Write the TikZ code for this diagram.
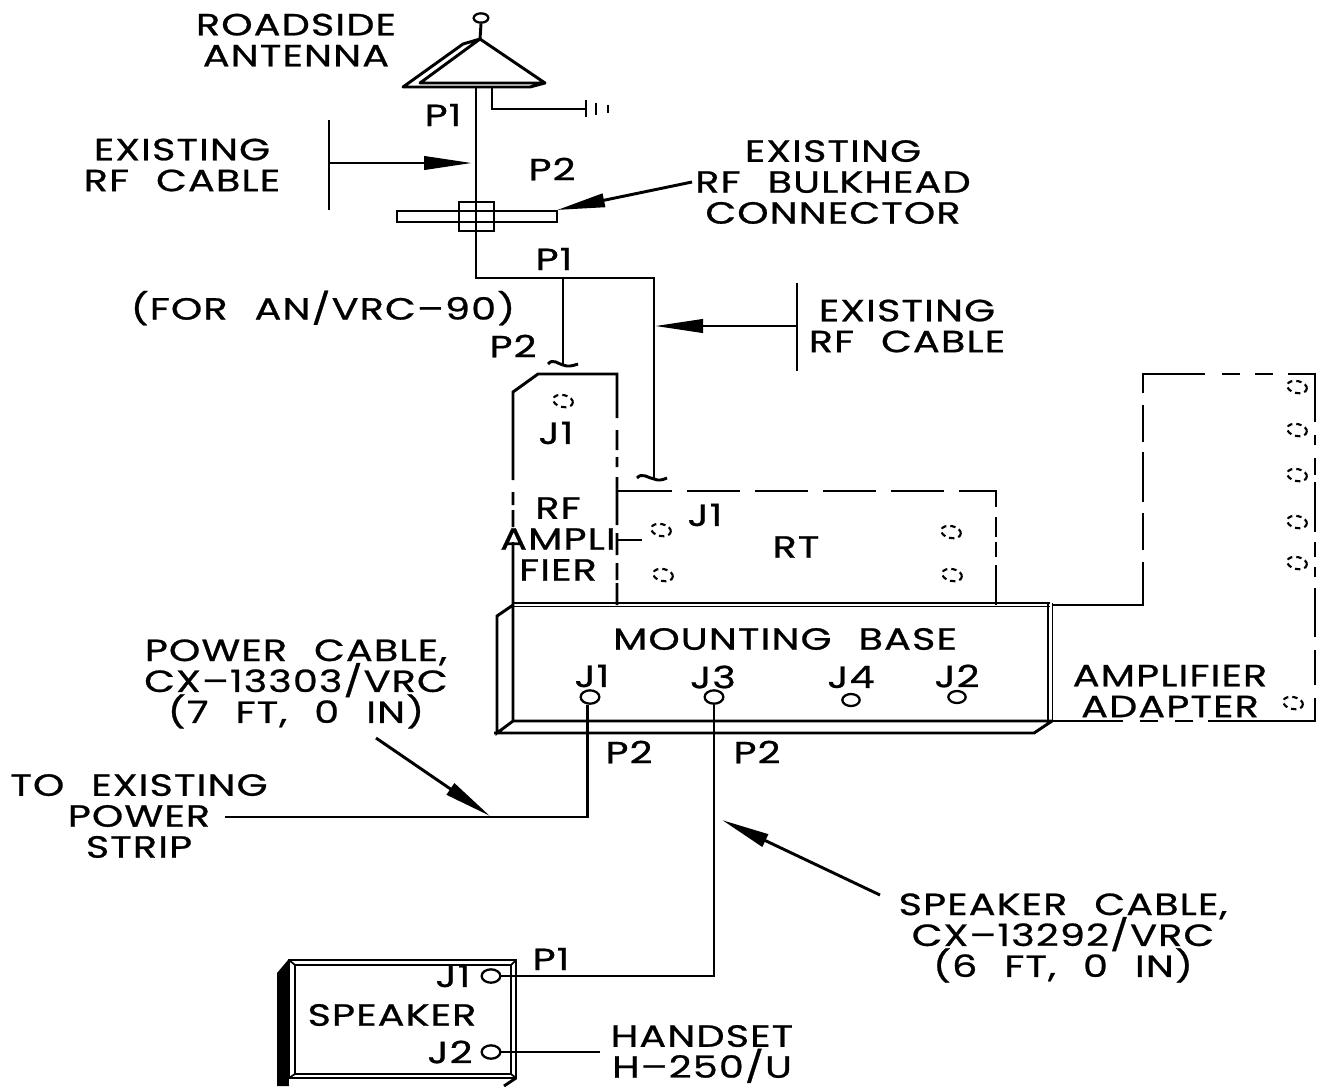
\documentclass[tikz,border=0pt]{standalone}
\usepackage{fontspec}
\setmainfont{Poppins}
\newfontfamily\labfont[FakeStretch=1.3,FakeBold=0.8,LetterSpace=3.5,WordSpace=2.3]{Poppins}
\usetikzlibrary{shapes.geometric,arrows.meta}
\lineskiplimit=-20pt
\normallineskiplimit=-20pt
\tikzset{
 ln/.style={line width=2.2pt,line cap=butt,line join=miter},
 thin2/.style={line width=1.3pt},
 lab/.style={inner sep=0pt,align=center,font=\labfont\fontsize{23}{23.2}\selectfont},
 conn/.style={draw,ellipse,line width=1.7pt,minimum width=14pt,minimum height=10pt,inner sep=0pt,fill=white},
 hole/.style={draw,ellipse,line width=1.6pt,minimum width=15pt,minimum height=9pt,inner sep=0pt,rotate=-12,dash pattern=on 4pt off 3pt},
 arw/.style={ln,-{Triangle[length=36pt,width=10pt]}}
}
\begin{document}
\begin{tikzpicture}[x=0.75pt,y=-0.75pt]
\useasboundingbox (0,0) rectangle (1319,1086);
% antenna
\node[conn,minimum width=11pt,minimum height=7pt] (tip) at (481,18) {};
\coordinate (apex) at (480,39);
\draw[ln] (tip.south) -- (apex);
\draw[ln,line join=round] (apex) -- (545,83) -- (530,87) -- (403,87) -- (463,44) -- (apex) -- (420,83) -- (545,83);
\coordinate (antfoot) at (476,87);
\coordinate (gfoot) at (492,87);
\coordinate (gnd) at (586,109);
\draw[ln] (gfoot) |- (gnd);
\draw[ln] (586,100) -- (586,117) (596,103) -- (596,115) (608,105) -- (608,113);
% bulkhead
\draw[ln] (397,211) rectangle (557,222);
\draw[ln] (459,202) rectangle (494,231);
% rf cables
\coordinate (split) at (476,278);
\coordinate (tap1) at (563,278);
\coordinate (tap2) at (654,278);
\coordinate (end1) at (563,364);
\coordinate (end2) at (654,478);
\draw[ln] (antfoot) -- (split) -- (tap2) -- (end2);
\draw[ln] (tap1) -- (end1);
\draw[ln] (548,364) .. controls (553,358) and (558,364) .. (563,365) .. controls (568,367) and (572,366) .. (578,364);
\draw[ln] (637,478) .. controls (642,472) and (648,478) .. (654,479) .. controls (659,481) and (662,480) .. (667,478);
% RF amplifier
\draw[ln] (513,605) -- (513,542) (513,527) -- (513,510) (513,505) -- (513,492) (513,480) -- (513,392) -- (538,374) -- (617,374) -- (617,418)
 (617,430) -- (617,450) (617,457) -- (617,467) (617,477) -- (617,525) (617,533) -- (617,555) (617,563) -- (617,580) (617,583) -- (617,605);
\draw[ln] (618,540) -- (642,540);
% RT
\draw[ln] (617,491) -- (672,491) (687,491) -- (740,491) (755,491) -- (808,491) (823,491) -- (876,491) (891,491) -- (944,491) (959,491) -- (996,491) -- (996,507)
 (996,517) -- (996,537) (996,542) -- (996,557) (996,565) -- (996,605);
% mounting base
\draw[thin2] (513,603) -- (1050,603) (513,606.5) -- (1050,606.5) (1048,603) -- (1048,721) (1052.5,603) -- (1052.5,721);
\draw[ln] (513,605) -- (513,721) -- (1052,721) (513,605) -- (497,616) -- (497,733) -- (513,721) (494,733) -- (1034,733) -- (1052,721);
% amplifier adapter
\draw[ln] (1052,605) -- (1143,605) -- (1143,562) (1143,550) -- (1143,513) (1143,502) -- (1143,452) (1143,442) -- (1143,405) (1143,393) -- (1143,374) -- (1205,374)
 (1222,374) -- (1240,374) (1255,374) -- (1273,374) (1288,374) -- (1315,374) -- (1315,422) (1315,435) -- (1315,445) (1315,458) -- (1315,475) (1315,482) -- (1315,532)
 (1315,542) -- (1315,557) (1315,567) -- (1315,577) (1315,588) -- (1315,637) (1315,650) -- (1315,685) (1315,698) -- (1315,721) -- (1208,721)
 (1193,721) -- (1175,721) (1158,721) -- (1140,721) (1123,721) -- (1052,721);
% holes
\foreach \n/\p in {a/{563,401},b/{661,530},c/{663,575},d/{951,532},e/{952,575},f/{1297,387},g/{1297,430},h/{1297,475},i/{1297,522},k/{1297,563},l/{1293,703}}
  \node[hole] (hole\n) at (\p) {};
% base connectors
\node[conn] (bj1) at (590,697) {};
\node[conn] (bj3) at (714,697) {};
\node[conn,minimum width=13pt,minimum height=9pt] (bj4) at (851,700) {};
\node[conn,minimum width=13pt,minimum height=9pt] (bj2) at (957,697) {};
% speaker
\fill (277,973) -- (288,960) -- (289,1086) -- (277,1086) -- cycle;
\draw[thin2] (289,960) rectangle (516,1078);
\draw[thin2] (295,965) rectangle (511,1074);
\draw[thin2] (289,960) -- (295,965) (516,960) -- (511,965) (289,1078) -- (295,1074) (516,1078) -- (511,1074);
\draw[ln] (516,1078) -- (504,1086);
\node[conn] (spj1) at (491,976) {};
\node[conn] (spj2) at (491,1052) {};
% cables
\coordinate (pwend) at (225,817);
\coordinate (hsend) at (600,1052);
\draw[ln] (bj1.250) |- (pwend);
\draw[ln] (bj3.south) |- (spj1.east);
\draw[ln] (spj2.east) -- (hsend);
% leaders
\coordinate (a1) at (329,163); \coordinate (t1) at (472,163);
\coordinate (a2) at (692,182); \coordinate (t2) at (557,210);
\coordinate (a3) at (797,326); \coordinate (t3) at (655,326);
\coordinate (a4) at (376,738); \coordinate (t4) at (490,816);
\coordinate (a5) at (880,895); \coordinate (t5) at (722,820);
\draw[ln] (329,120) -- (329,210);
\draw[ln] (797,283) -- (797,371);
\draw[arw] (a1) -- (t1);
\draw[arw] (a2) -- (t2);
\draw[arw] (a3) -- (t3);
\draw[arw] (a4) -- (t4);
\draw[arw] (a5) -- (t5);
% labels
\node[lab] (lroad) at (296,40) {ROADSIDE\\ANTENNA};
\node[lab] (lp1a) at (443,115) {P1};
\node[lab] (lp2a) at (552,169) {P2};
\node[lab] (lex1) at (182,165) {EXISTING\\RF CABLE};
\node[lab] (lbulk) at (833,182) {EXISTING\\RF BULKHEAD\\CONNECTOR};
\node[lab] (lp1b) at (554,259) {P1};
\node[lab] (lfor) at (323,308) {(FOR AN/VRC–90)};
\node[lab] (lp2b) at (513,346) {P2};
\node[lab] (lex2) at (907,326) {EXISTING\\RF CABLE};
\node[lab] (lj1a) at (556,433) {J1};
\node[lab] (lamp) at (558,539) {RF\\AMPLI\\FIER};
\node[lab] (lj1b) at (705,515) {J1};
\node[lab] (lrt) at (796,547) {RT};
\node[lab] (lbase) at (785,639) {MOUNTING BASE};
\node[lab] (lj1c) at (592,676) {J1};
\node[lab] (lj3) at (713,677) {J3};
\node[lab] (lj4) at (851,677) {J4};
\node[lab] (lj2) at (957,676) {J2};
\node[lab] (ladapt) at (1170,691) {AMPLIFIER\\ADAPTER};
\node[lab] (lp2c) at (629,752) {P2};
\node[lab] (lp2d) at (757,752) {P2};
\node[lab] (lpow) at (296,684) {POWER CABLE,\\CX–13303/VRC\\(7 FT, 0 IN)};
\node[lab] (lto) at (139,816) {TO EXISTING\\POWER\\STRIP};
\node[lab] (lspk) at (1063,938) {SPEAKER CABLE,\\CX–13292/VRC\\(6 FT, 0 IN)};
\node[lab] (lp1c) at (551,959) {P1};
\node[lab] (lj1d) at (453,976) {J1};
\node[lab] (lspeaker) at (392,1015) {SPEAKER};
\node[lab] (lj2b) at (450,1052) {J2};
\node[lab] (lhand) at (702,1054) {HANDSET\\H–250/U};
\end{tikzpicture}
\end{document}
